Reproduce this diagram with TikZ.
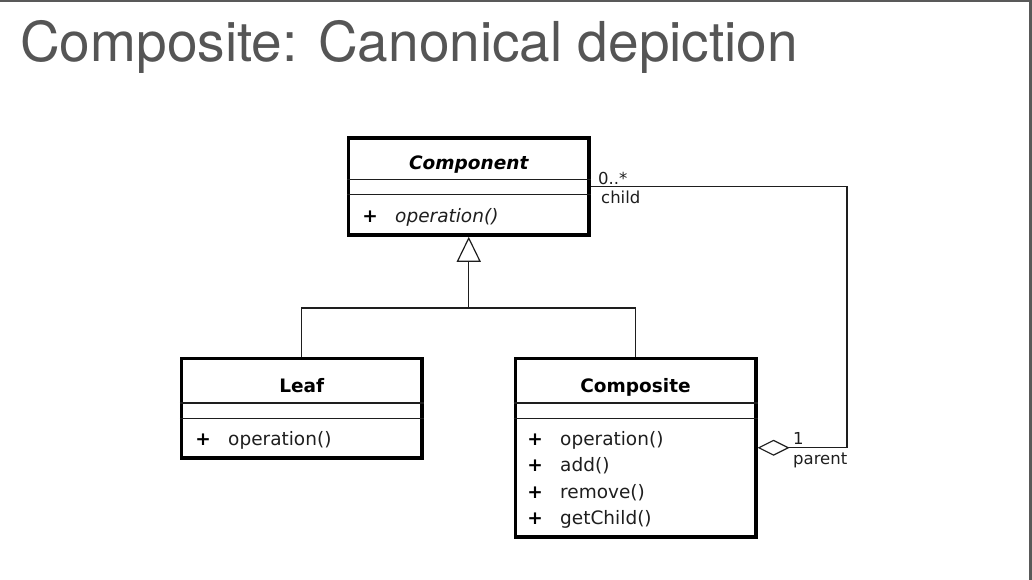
\documentclass[tikz,border=0pt]{standalone}
\usepackage{fontspec}
\setmainfont{DejaVu Sans}
\newfontfamily\titlefont{TeX Gyre Heros}
\usetikzlibrary{arrows.meta,calc}
\definecolor{titlegray}{RGB}{85,85,85}
\definecolor{umlink}{RGB}{30,30,30}
\tikzset{
  classbox/.style={draw=black, line width=3.5pt, minimum width=240.5pt, inner sep=0pt},
  compline/.style={umlink, line width=1.2pt},
  classname/.style={anchor=base, inner sep=0pt, text=black,
    font=\fontsize{18.5}{22}\selectfont\bfseries},
  member/.style={anchor=base west, inner sep=0pt, text=umlink,
    font=\fontsize{18.5}{22}\selectfont},
  visib/.style={anchor=base, inner sep=0pt, text=black,
    font=\fontsize{18.5}{22}\selectfont\bfseries},
  rolelabel/.style={anchor=base west, inner sep=0pt, text=umlink,
    font=\fontsize{16.5}{20}\selectfont},
  connector/.style={umlink, line width=1.2pt},
}

\begin{document}
\begin{tikzpicture}[x=1pt,y=-1pt]
\useasboundingbox (0,0) rectangle (1032,580);
% slide frame
\draw[gray!70!black, line width=2.5pt] (0,1.25) -- (1030.5,1.25) -- (1030.5,580);

\node[anchor=base west, inner sep=0pt, text=titlegray,
  font=\titlefont\fontsize{55}{60}\selectfont] (title) at (20,62) {Composite: Canonical depiction};

% the three classes
\node[classbox, minimum height=97pt] (component) at (468.75,186.5) {};
\node[classbox, minimum height=99.5pt] (leaf) at (301.75,408.25) {};
\node[classbox, minimum height=178.5pt] (composite) at (635.5,447.75) {};

\foreach \cls/\ya/\yb in {component/179.5/194.5, leaf/403/418.5, composite/403/418.5}{
  \draw[compline] (\cls.west |- 0,\ya) -- (\cls.east |- 0,\ya);
  \draw[compline] (\cls.west |- 0,\yb) -- (\cls.east |- 0,\yb);
}

\node[classname, font=\fontsize{18.5}{22}\selectfont\bfseries\itshape] (componentname) at (468.75,169) {Component};
\node[visib] (componentplus) at (370,222) {+};
\node[member, font=\fontsize{18.5}{22}\selectfont\itshape] (componentop) at (395,222) {operation()};

\node[classname] (leafname) at (301.75,392) {Leaf};
\node[visib] (leafplus) at (203,445) {+};
\node[member] (leafop) at (228,445) {operation()};

\node[classname] (compositename) at (635.5,392) {Composite};
\foreach \op [count=\i] in {operation(),add(),remove(),getChild()}{
  \node[visib] (compositeplus\i) at (535,418.5+26.5*\i) {+};
  \node[member] (compositeop\i) at (560,418.5+26.5*\i) {\op};
}

% generalization
\coordinate (junction) at (468.75,308);
\draw[connector] (leaf.north) |- (junction) -| (composite.north);
\draw[connector, -{Triangle[open, length=25pt, width=24pt]}] (junction) -- (component.south);

% aggregation child/parent
\coordinate (bend) at (847,186.5);
\draw[connector, {Diamond[open, length=32pt, width=16pt]}-] (composite.east) -| (bend) -- (component.east);

\node[rolelabel] (childmult) at (598,184) {0..*};
\node[rolelabel] (childrole) at (601,203) {child};
\node[rolelabel] (parentmult) at (793,444) {1};
\node[rolelabel] (parentrole) at (793,464) {parent};

\end{tikzpicture}
\end{document}
